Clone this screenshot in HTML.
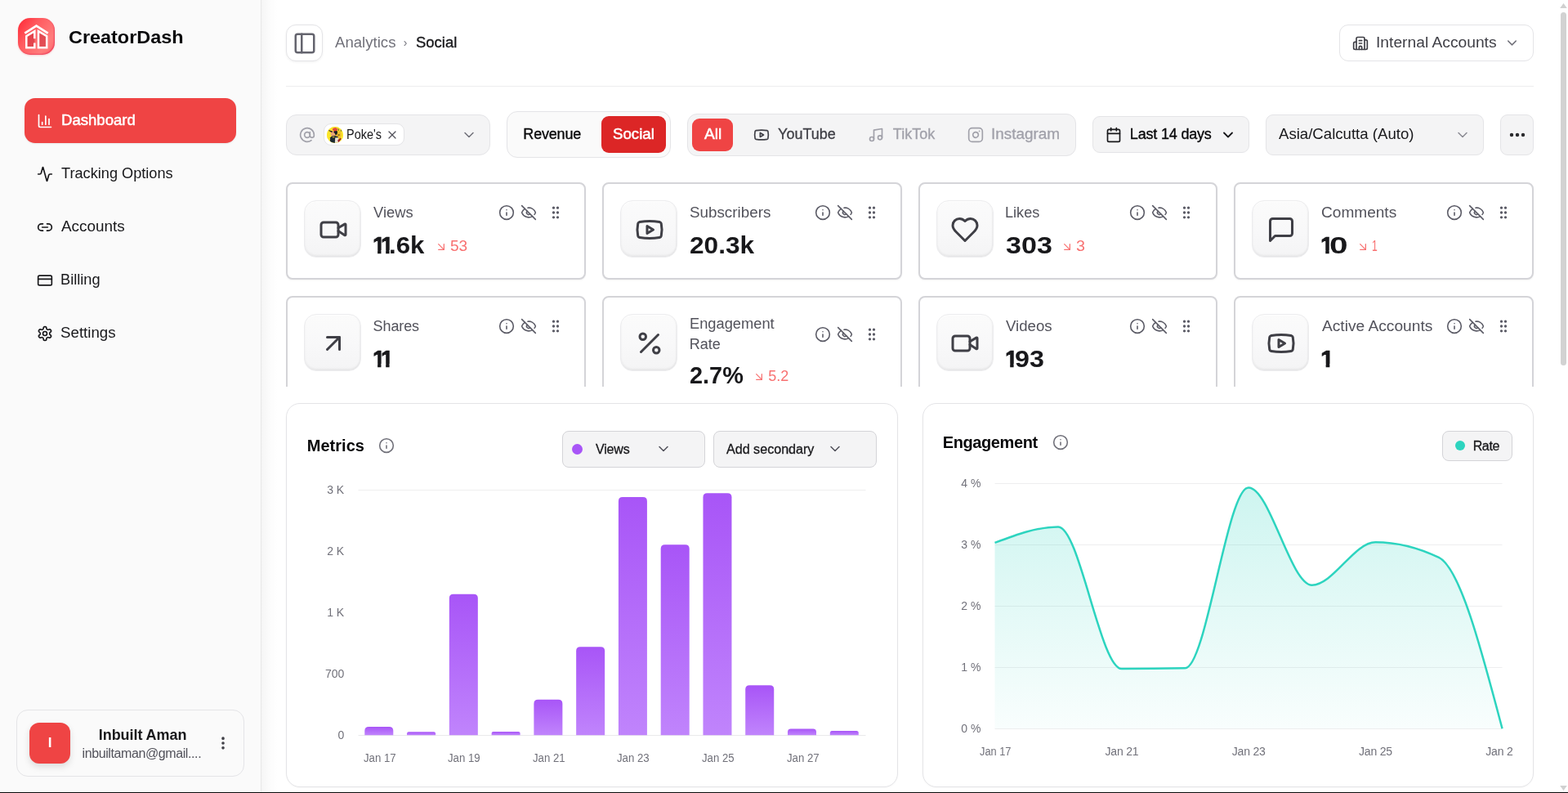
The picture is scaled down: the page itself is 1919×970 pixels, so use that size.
<!DOCTYPE html>
<html lang="en">
<head>
<meta charset="utf-8">
<title>CreatorDash</title>
<style>
*{box-sizing:border-box;margin:0;padding:0}
html,body{width:1919px;height:970px;overflow:hidden;background:#fff}
body{font-family:"Liberation Sans",sans-serif;color:#18181b;position:relative;-webkit-font-smoothing:antialiased}
.abs{position:absolute}
.t{position:absolute;white-space:nowrap;line-height:1}
svg.ic{position:absolute;fill:none;stroke:currentColor;stroke-width:2;stroke-linecap:round;stroke-linejoin:round}
#side{position:absolute;left:0;top:0;width:320px;height:970px;background:#fafafa;border-right:1px solid #e8e8e8}
#main{position:absolute;left:320px;top:0;width:1599px;height:970px;background:#fff}
.nav{color:#18181b;font-size:18px}
.box{position:absolute;border:1px solid #e4e4e7;background:#f4f4f5;border-radius:10px}
.card{position:absolute;border:2px solid #d4d4d8;border-radius:10px;background:#fff;height:118px;width:367px}
.ibox{position:absolute;left:20px;top:19px;width:70px;height:70px;border-radius:16px;border:1px solid #ececee;background:linear-gradient(180deg,#fdfdfd,#f4f4f5);box-shadow:0 2px 4px rgba(0,0,0,.06), inset 0 -2px 3px rgba(0,0,0,.03);color:#3f3f46}
.lbl{font-size:18px;color:#52525b}
.val{font-size:30px;font-weight:700;color:#18181b}
.trend{font-size:18px;color:#f87171}
.mini{color:#52525b}
.chart{position:absolute;border:1px solid #e4e4e7;border-radius:18px;background:#fff;box-shadow:0 1px 2px rgba(0,0,0,.04)}
</style>
</head>
<body>
<div id="side"></div>
<div id="main"></div>
<div class="abs" style="left:320px;top:0px;width:20px;height:969px;background:linear-gradient(90deg,rgba(0,0,0,.04) 0%,rgba(0,0,0,.028) 20%,rgba(0,0,0,.012) 55%,rgba(0,0,0,0) 100%)"></div>
<div class="abs" style="left:22.25px;top:22.25px;width:45px;height:45px;border-radius:15px;background:linear-gradient(125deg,#ff2633 0%,#ff5a5f 35%,#ff7d7d 75%,#ff6a6e 100%);box-shadow:inset -1px -1px 1.5px rgba(225,29,72,.55),0 1px 2px rgba(239,68,68,.25)"></div>
<svg class="abs" viewBox="0 0 45 45" style="left:22.25px;top:22.25px;width:45px;height:45px" fill="none" stroke="#fff" stroke-width="2.5" stroke-linejoin="miter" stroke-linecap="butt"><path d="M10.3 22.2 20.3 16.2V36.2H10.3z M25 16.2 35.2 22.2V36.2H25z" fill="rgba(200,35,50,.5)" stroke="none"/><path d="M8.3 18.6 22.5 9.6 36.7 18.6" stroke-width="2.7"/><path d="M20.3 25.2V16.2L10.3 22.2V36.2H20.3V30.4"/><path d="M25 16.2 35.2 22.2V36.2H25z"/></svg>
<div class="t" style="left:84.40px;top:35px;font-size:22px;color:#09090b;font-weight:700;transform:scaleX(1.0644);transform-origin:0 0;">CreatorDash</div>
<div class="abs" style="left:30px;top:120px;width:259px;height:55px;background:#ef4444;border-radius:13px;box-shadow:0 1px 2px rgba(0,0,0,.08)"></div>
<svg class="ic" viewBox="0 0 24 24" style="left:45.00px;top:138.00px;width:20px;height:20px;color:#fff;stroke-width:2;"><path d="M3 3v16a2 2 0 0 0 2 2h16"/><path d="M18 17V9"/><path d="M13 17V5"/><path d="M8 17v-3"/></svg>
<div class="t" style="left:74.55px;top:138px;font-size:18px;color:#fff;transform:scaleX(1.0318);transform-origin:0 0;-webkit-text-stroke:.45px #fff;">Dashboard</div>
<svg class="ic" viewBox="0 0 24 24" style="left:45.00px;top:203.00px;width:20px;height:20px;color:#18181b;stroke-width:2;"><path d="M22 12h-2.48a2 2 0 0 0-1.93 1.46l-2.35 8.36a.25.25 0 0 1-.48 0L9.24 2.18a.25.25 0 0 0-.48 0l-2.35 8.36A2 2 0 0 1 4.49 12H2"/></svg>
<div class="t" style="left:75.16px;top:203px;font-size:18px;color:#18181b;transform:scaleX(1.0094);transform-origin:0 0;">Tracking Options</div>
<svg class="ic" viewBox="0 0 24 24" style="left:45.00px;top:268.00px;width:20px;height:20px;color:#18181b;stroke-width:2;"><path d="M9 17H7A5 5 0 0 1 7 7h2"/><path d="M15 7h2a5 5 0 1 1 0 10h-2"/><path d="M8 12h8"/></svg>
<div class="t" style="left:75.35px;top:268px;font-size:18px;color:#18181b;transform:scaleX(1.0494);transform-origin:0 0;">Accounts</div>
<svg class="ic" viewBox="0 0 24 24" style="left:45.00px;top:333.00px;width:20px;height:20px;color:#18181b;stroke-width:2;"><rect width="20" height="14" x="2" y="5" rx="2"/><path d="M2 10h20"/></svg>
<div class="t" style="left:74.06px;top:333px;font-size:18px;color:#18181b;transform:scaleX(1.0113);transform-origin:0 0;">Billing</div>
<svg class="ic" viewBox="0 0 24 24" style="left:45.00px;top:398.00px;width:20px;height:20px;color:#18181b;stroke-width:2;"><path d="M12.22 2h-.44a2 2 0 0 0-2 2v.18a2 2 0 0 1-1 1.73l-.43.25a2 2 0 0 1-2 0l-.15-.08a2 2 0 0 0-2.73.73l-.22.38a2 2 0 0 0 .73 2.73l.15.1a2 2 0 0 1 1 1.72v.51a2 2 0 0 1-1 1.74l-.15.09a2 2 0 0 0-.73 2.73l.22.38a2 2 0 0 0 2.73.73l.15-.08a2 2 0 0 1 2 0l.43.25a2 2 0 0 1 1 1.73V20a2 2 0 0 0 2 2h.44a2 2 0 0 0 2-2v-.18a2 2 0 0 1 1-1.73l.43-.25a2 2 0 0 1 2 0l.15.08a2 2 0 0 0 2.73-.73l.22-.39a2 2 0 0 0-.73-2.73l-.15-.08a2 2 0 0 1-1-1.74v-.5a2 2 0 0 1 1-1.74l.15-.09a2 2 0 0 0 .73-2.73l-.22-.38a2 2 0 0 0-2.73-.73l-.15.08a2 2 0 0 1-2 0l-.43-.25a2 2 0 0 1-1-1.73V4a2 2 0 0 0-2-2z"/><circle cx="12" cy="12" r="3"/></svg>
<div class="t" style="left:74.46px;top:398px;font-size:18px;color:#18181b;transform:scaleX(1.0394);transform-origin:0 0;">Settings</div>
<div class="abs" style="left:20px;top:868px;width:279px;height:82px;border:1px solid #e4e4e7;border-radius:14px;background:#fafafa"></div>
<div class="abs" style="left:36px;top:884px;width:50px;height:50px;background:#ef4444;border-radius:12px;box-shadow:0 4px 8px rgba(0,0,0,.12)"></div>
<div class="t" style="left:58.65px;top:900px;font-size:17px;color:#fff;font-weight:700;">I</div>
<div class="t" style="left:120.79px;top:890px;font-size:18px;color:#18181b;font-weight:700;letter-spacing:-0.063px;">Inbuilt Aman</div>
<div class="t" style="left:100.50px;top:914px;font-size:16px;color:#52525b;letter-spacing:-0.399px;">inbuiltaman@gmail....</div>
<svg class="ic" viewBox="0 0 24 24" style="left:263.00px;top:899.00px;width:20px;height:20px;color:#3f3f46;stroke-width:2.4;"><circle cx="12" cy="12" r="1"/><circle cx="12" cy="5" r="1"/><circle cx="12" cy="19" r="1"/></svg>
<div class="abs" style="left:350px;top:30px;width:45px;height:45px;border:1px solid #e4e4e7;border-radius:12px;background:#fff;box-shadow:0 1px 3px rgba(0,0,0,.06)"></div>
<svg class="ic" viewBox="0 0 24 24" style="left:358.00px;top:37.70px;width:30px;height:30px;color:#64646e;stroke-width:2;"><rect width="18" height="18" x="3" y="3" rx="2"/><path d="M9 3v18"/></svg>
<div class="t" style="left:410.46px;top:43px;font-size:18px;color:#71717a;transform:scaleX(1.0340);transform-origin:0 0;">Analytics</div>
<div class="t" style="left:493.70px;top:45px;font-size:14px;color:#71717a;">›</div>
<div class="t" style="left:508.93px;top:43px;font-size:18px;color:#18181b;transform:scaleX(1.0266);transform-origin:0 0;-webkit-text-stroke:.35px #18181b;">Social</div>
<div class="abs" style="left:1639px;top:30px;width:238px;height:45px;border:1px solid #e4e4e7;border-radius:11px;background:#fff"></div>
<svg class="ic" viewBox="0 0 24 24" style="left:1654.90px;top:42.50px;width:20px;height:20px;color:#3f3f46;stroke-width:2;"><path d="M10 12h4"/><path d="M10 8h4"/><path d="M14 21v-3a2 2 0 0 0-4 0v3"/><path d="M6 10H4a2 2 0 0 0-2 2v7a2 2 0 0 0 2 2h16a2 2 0 0 0 2-2V9a2 2 0 0 0-2-2h-2"/><path d="M6 21V5a2 2 0 0 1 2-2h8a2 2 0 0 1 2 2v16"/></svg>
<div class="t" style="left:1683.76px;top:43px;font-size:18px;color:#3f3f46;transform:scaleX(1.0685);transform-origin:0 0;">Internal Accounts</div>
<svg class="ic" viewBox="0 0 24 24" style="left:1841.10px;top:43.30px;width:19px;height:19px;color:#71717a;stroke-width:1.8;"><path d="m6 9 6 6 6-6"/></svg>
<div class="abs" style="left:350px;top:105px;width:1527px;height:1px;background:#ededee"></div>
<div class="abs" style="left:350px;top:140px;width:250px;height:50px;border:1px solid #e4e4e7;background:#f4f4f5;border-radius:13px"></div>
<svg class="ic" viewBox="0 0 24 24" style="left:366.00px;top:154.50px;width:20px;height:20px;color:#a1a1aa;stroke-width:2;"><circle cx="12" cy="12" r="4"/><path d="M16 8v5a3 3 0 0 0 6 0v-1a10 10 0 1 0-4 8"/></svg>
<div class="abs" style="left:396px;top:151px;width:99px;height:27px;border:1px solid #e4e4e7;background:#fff;border-radius:9px"></div>
<div class="abs" style="left:400px;top:155px;width:20px;height:20px;border-radius:50%;overflow:hidden;background:#fae428"><svg viewBox="0 0 20 20" width="20" height="20"><defs><filter id="bl" x="-20%" y="-20%" width="140%" height="140%"><feGaussianBlur stdDeviation="0.45"/></filter></defs><rect width="20" height="20" fill="#fbe52a"/><g filter="url(#bl)"><path d="M11 7.5c1-2 3-2.8 4.8-2.2l1.7 1.5.6 4-1.8 3.4-4.2.3z" fill="#eec22a"/><path d="M13.6 1.6l1.5 2.6-1.2.8z M17.2 2.8l.8 2.6-1.3.2z" fill="#3b3a2a"/><path d="M13.5 9.2l2.5.2-.3 1.3-2 .2z" fill="#7a5a1c"/><path d="M12.3 10.6l2 .6-1 1.3z" fill="#e8863a"/><path d="M5 6.2c1.5-.8 4-.9 5.6 0l.3 4.6-2.2 1.6-3-.6-1-2.6z" fill="#eaa775"/><path d="M9.6 4.2c1.8-.6 3.2.4 3.4 2.2l-.4 2.6-1.8 1.4-1-2.2-1.6-1.6z" fill="#121a22"/><path d="M6.8 3.6C7.2 1.9 9 1 10.8 1.3c1.500.3 2.200 1.300 2.200 2.600L11.800 5.300 8.500 5.400z" fill="#e2463f"/><path d="M1.700 4.100l5.300 1.300-.6 1.700c-1.800-.4-3.500-1.500-4.700-3z" fill="#2b1a2c"/><path d="M4.200 13.200c1-1.400 3.200-2.200 5.800-2.200l3.600 1.200 1 8.300H3.600z" fill="#1d2a32"/><path d="M10.200 13.400l3.600-.2 1.600 7.200h-5.600z" fill="#e9e1d2"/><path d="M13.200 16.500l3.600-3 .8 1.600-3.400 4.600z" fill="#9c1f2c"/><path d="M6.600 12.400l2.600-.4.300 1-2.400.5z" fill="#e6c22a"/></g></svg></div>
<div class="t" style="left:423.92px;top:157px;font-size:16px;color:#18181b;transform:scaleX(0.9026);transform-origin:0 0;">Poke's</div>
<svg class="ic" viewBox="0 0 24 24" style="left:471.60px;top:156.50px;width:16px;height:16px;color:#52525b;stroke-width:1.8;"><path d="M18 6 6 18"/><path d="m6 6 12 12"/></svg>
<svg class="ic" viewBox="0 0 24 24" style="left:563.90px;top:155.00px;width:20px;height:20px;color:#71717a;stroke-width:1.8;"><path d="m6 9 6 6 6-6"/></svg>
<div class="abs" style="left:620px;top:136px;width:201px;height:57px;border:1px solid #e4e4e7;background:#fafafa;border-radius:13px"></div>
<div class="t" style="left:640.33px;top:155px;font-size:18px;color:#09090b;letter-spacing:-0.194px;-webkit-text-stroke:.35px #09090b;">Revenue</div>
<div class="abs" style="left:736px;top:142px;width:79px;height:45px;background:#dc2626;border-radius:9px"></div>
<div class="t" style="left:750.27px;top:155px;font-size:18px;color:#fff;transform:scaleX(1.0364);transform-origin:0 0;-webkit-text-stroke:.5px #fff;">Social</div>
<div class="abs" style="left:841px;top:139px;width:476px;height:52px;border:1px solid #e4e4e7;background:#f4f4f5;border-radius:12px"></div>
<div class="abs" style="left:847px;top:145px;width:50px;height:40px;background:#ef4444;border-radius:9px"></div>
<div class="t" style="left:861.80px;top:155px;font-size:18px;color:#fff;transform:scaleX(1.0632);transform-origin:0 0;-webkit-text-stroke:.5px #fff;">All</div>
<svg class="ic" viewBox="0 0 24 24" style="left:922.00px;top:154.80px;width:20px;height:20px;color:#3f3f46;stroke-width:2;"><path d="M2.5 17a24.12 24.12 0 0 1 0-10 2 2 0 0 1 1.4-1.4 49.56 49.56 0 0 1 16.2 0A2 2 0 0 1 21.5 7a24.12 24.12 0 0 1 0 10 2 2 0 0 1-1.4 1.4 49.55 49.55 0 0 1-16.2 0A2 2 0 0 1 2.5 17"/><path d="m10 15 5-3-5-3z"/></svg>
<div class="t" style="left:952.10px;top:155px;font-size:18px;color:#3f3f46;-webkit-text-stroke:.3px #3f3f46;">YouTube</div>
<svg class="ic" viewBox="0 0 24 24" style="left:1062.00px;top:154.80px;width:20px;height:20px;color:#a1a1aa;stroke-width:2;"><path d="M9 18V5l12-2v13"/><circle cx="6" cy="18" r="3"/><circle cx="18" cy="16" r="3"/></svg>
<div class="t" style="left:1092.86px;top:155px;font-size:18px;color:#a1a1aa;letter-spacing:-0.012px;-webkit-text-stroke:.3px #a1a1aa;">TikTok</div>
<svg class="ic" viewBox="0 0 24 24" style="left:1184.00px;top:154.80px;width:20px;height:20px;color:#a1a1aa;stroke-width:2;"><rect width="20" height="20" x="2" y="2" rx="5" ry="5"/><path d="M16 11.37A4 4 0 1 1 12.63 8 4 4 0 0 1 16 11.37z"/><path d="M17.5 6.5h.01"/></svg>
<div class="t" style="left:1213.28px;top:155px;font-size:18px;color:#a1a1aa;transform:scaleX(1.0509);transform-origin:0 0;-webkit-text-stroke:.3px #a1a1aa;">Instagram</div>
<div class="abs" style="left:1337px;top:142px;width:192px;height:45px;border:1px solid #e4e4e7;background:#f4f4f5;border-radius:9px"></div>
<svg class="ic" viewBox="0 0 24 24" style="left:1352.80px;top:154.50px;width:20px;height:20px;color:#18181b;stroke-width:2;"><path d="M8 2v4"/><path d="M16 2v4"/><rect width="18" height="18" x="3" y="4" rx="2"/><path d="M3 10h18"/></svg>
<div class="t" style="left:1382.83px;top:155px;font-size:18px;color:#09090b;letter-spacing:-0.186px;-webkit-text-stroke:.35px #09090b;">Last 14 days</div>
<svg class="ic" viewBox="0 0 24 24" style="left:1493.00px;top:155.00px;width:20px;height:20px;color:#18181b;stroke-width:2.2;"><path d="m6 9 6 6 6-6"/></svg>
<div class="abs" style="left:1549px;top:140px;width:267px;height:50px;border:1px solid #e4e4e7;background:#f4f4f5;border-radius:9px"></div>
<div class="t" style="left:1565.36px;top:155px;font-size:18px;color:#18181b;transform:scaleX(1.0339);transform-origin:0 0;">Asia/Calcutta (Auto)</div>
<svg class="ic" viewBox="0 0 24 24" style="left:1779.80px;top:155.00px;width:20px;height:20px;color:#8b8b93;stroke-width:1.8;"><path d="m6 9 6 6 6-6"/></svg>
<div class="abs" style="left:1836px;top:140px;width:41px;height:50px;border:1px solid #e4e4e7;background:#f4f4f5;border-radius:9px"></div>
<svg class="ic" viewBox="0 0 24 24" style="left:1844.50px;top:152.50px;width:24px;height:24px;color:#27272a;stroke-width:2.4;"><circle cx="12" cy="12" r="1"/><circle cx="19" cy="12" r="1"/><circle cx="5" cy="12" r="1"/></svg>
<div class="abs" style="left:350px;top:223px;width:366.75px;height:119px;border:2px solid #d4d4d8;border-radius:8px;background:#fff;box-shadow:0 1px 2px rgba(0,0,0,.05)"></div>
<div class="abs" style="left:372px;top:245px;width:70px;height:70px;border-radius:15px;border:1px solid #ececee;background:linear-gradient(180deg,#fbfbfb 0%,#f8f8f9 55%,#f4f4f5 100%);box-shadow:inset 0 -2px 2.5px rgba(0,0,0,.055),inset -1px 0 1.5px rgba(0,0,0,.03),inset 0 1px 1px rgba(255,255,255,.9)"></div>
<svg class="ic" viewBox="0 0 24 24" style="left:389.90px;top:262.90px;width:36px;height:36px;color:#3f3f46;stroke-width:2;"><path d="m16 13 5.223 3.482a.5.5 0 0 0 .777-.416V7.87a.5.5 0 0 0-.752-.432L16 10.5"/><rect x="2" y="6" width="14" height="12" rx="2"/></svg>
<div class="t" style="left:457.41px;top:251px;font-size:18px;color:#52525b;transform:scaleX(1.0189);transform-origin:0 0;">Views</div>
<div class="t" aria-label="11.6k" style="left:455.67px;top:285px;font-size:30px;color:#18181b;font-weight:700;"><span style="display:inline-block;transform:scaleX(0.9203);transform-origin:0 0;margin-left:0.00px;margin-right:-1.35px;clip-path:polygon(0 0,100% 0,100% 21px,11.36px 21px,11.36px 100%,6.64px 100%,6.64px 21px,0 21px);-webkit-text-stroke:.6px #18181b;">1</span><span style="display:inline-block;transform:scaleX(0.9315);transform-origin:0 0;margin-left:-5.47px;margin-right:-1.16px;clip-path:polygon(0 0,100% 0,100% 21px,11.36px 21px,11.36px 100%,6.64px 100%,6.64px 21px,0 21px);-webkit-text-stroke:.6px #18181b;">1</span><span style="display:inline-block;transform:scaleX(1.0414);transform-origin:0 0;margin-left:-4.69px;margin-right:1.74px;">.6k</span></div>
<svg class="ic" viewBox="0 0 24 24" style="left:531.70px;top:293.70px;width:16px;height:16px;color:#f87171;stroke-width:1.9;"><path d="m7 7 10 10"/><path d="M17 7v10H7"/></svg>
<div class="t" style="left:550.80px;top:292px;font-size:18px;color:#f87171;transform:scaleX(1.0595);transform-origin:0 0;">53</div>
<svg class="ic" viewBox="0 0 24 24" style="left:610.00px;top:249.80px;width:20px;height:20px;color:#5b5b66;stroke-width:1.9;"><circle cx="12" cy="12" r="10"/><path d="M12 16v-4"/><path d="M12 8h.01"/></svg>
<svg class="ic" viewBox="0 0 24 24" style="left:637.00px;top:249.80px;width:20px;height:20px;color:#5b5b66;stroke-width:1.9;"><path d="M10.733 5.076a10.744 10.744 0 0 1 11.205 6.575 1 1 0 0 1 0 .696 10.747 10.747 0 0 1-1.444 2.49"/><path d="M14.084 14.158a3 3 0 0 1-4.242-4.242"/><path d="M17.479 17.499a10.75 10.75 0 0 1-15.417-5.151 1 1 0 0 1 0-.696 10.75 10.75 0 0 1 4.446-5.143"/><path d="m2 2 20 20"/></svg>
<svg class="ic" viewBox="0 0 24 24" style="left:670.00px;top:249.80px;width:20px;height:20px;color:#5b5b66;stroke-width:2;"><circle cx="9" cy="12" r="1"/><circle cx="9" cy="5" r="1"/><circle cx="9" cy="19" r="1"/><circle cx="15" cy="12" r="1"/><circle cx="15" cy="5" r="1"/><circle cx="15" cy="19" r="1"/></svg>
<div class="abs" style="left:736.75px;top:223px;width:366.75px;height:119px;border:2px solid #d4d4d8;border-radius:8px;background:#fff;box-shadow:0 1px 2px rgba(0,0,0,.05)"></div>
<div class="abs" style="left:758.75px;top:245px;width:70px;height:70px;border-radius:15px;border:1px solid #ececee;background:linear-gradient(180deg,#fbfbfb 0%,#f8f8f9 55%,#f4f4f5 100%);box-shadow:inset 0 -2px 2.5px rgba(0,0,0,.055),inset -1px 0 1.5px rgba(0,0,0,.03),inset 0 1px 1px rgba(255,255,255,.9)"></div>
<svg class="ic" viewBox="0 0 24 24" style="left:776.65px;top:262.90px;width:36px;height:36px;color:#3f3f46;stroke-width:2;"><path d="M2.5 17a24.12 24.12 0 0 1 0-10 2 2 0 0 1 1.4-1.4 49.56 49.56 0 0 1 16.2 0A2 2 0 0 1 21.5 7a24.12 24.12 0 0 1 0 10 2 2 0 0 1-1.4 1.4 49.55 49.55 0 0 1-16.2 0A2 2 0 0 1 2.5 17"/><path d="m10 15 5-3-5-3z"/></svg>
<div class="t" style="left:844.11px;top:251px;font-size:18px;color:#52525b;transform:scaleX(1.0449);transform-origin:0 0;">Subscribers</div>
<div class="t" style="left:844.15px;top:285px;font-size:30px;color:#18181b;font-weight:700;"><span style="display:inline-block;transform:scaleX(1.0541);transform-origin:0 0;margin-left:0.00px;margin-right:4.06px;">20.3k</span></div>
<svg class="ic" viewBox="0 0 24 24" style="left:996.75px;top:249.80px;width:20px;height:20px;color:#5b5b66;stroke-width:1.9;"><circle cx="12" cy="12" r="10"/><path d="M12 16v-4"/><path d="M12 8h.01"/></svg>
<svg class="ic" viewBox="0 0 24 24" style="left:1023.75px;top:249.80px;width:20px;height:20px;color:#5b5b66;stroke-width:1.9;"><path d="M10.733 5.076a10.744 10.744 0 0 1 11.205 6.575 1 1 0 0 1 0 .696 10.747 10.747 0 0 1-1.444 2.49"/><path d="M14.084 14.158a3 3 0 0 1-4.242-4.242"/><path d="M17.479 17.499a10.75 10.75 0 0 1-15.417-5.151 1 1 0 0 1 0-.696 10.75 10.75 0 0 1 4.446-5.143"/><path d="m2 2 20 20"/></svg>
<svg class="ic" viewBox="0 0 24 24" style="left:1056.75px;top:249.80px;width:20px;height:20px;color:#5b5b66;stroke-width:2;"><circle cx="9" cy="12" r="1"/><circle cx="9" cy="5" r="1"/><circle cx="9" cy="19" r="1"/><circle cx="15" cy="12" r="1"/><circle cx="15" cy="5" r="1"/><circle cx="15" cy="19" r="1"/></svg>
<div class="abs" style="left:1123.5px;top:223px;width:366.75px;height:119px;border:2px solid #d4d4d8;border-radius:8px;background:#fff;box-shadow:0 1px 2px rgba(0,0,0,.05)"></div>
<div class="abs" style="left:1145.5px;top:245px;width:70px;height:70px;border-radius:15px;border:1px solid #ececee;background:linear-gradient(180deg,#fbfbfb 0%,#f8f8f9 55%,#f4f4f5 100%);box-shadow:inset 0 -2px 2.5px rgba(0,0,0,.055),inset -1px 0 1.5px rgba(0,0,0,.03),inset 0 1px 1px rgba(255,255,255,.9)"></div>
<svg class="ic" viewBox="0 0 24 24" style="left:1163.40px;top:262.90px;width:36px;height:36px;color:#3f3f46;stroke-width:2;"><path d="M19 14c1.49-1.46 3-3.21 3-5.5A5.5 5.5 0 0 0 16.5 3c-1.76 0-3 .5-4.5 2-1.5-1.5-2.74-2-4.5-2A5.5 5.5 0 0 0 2 8.5c0 2.3 1.5 4.05 3 5.5l7 7Z"/></svg>
<div class="t" style="left:1230.28px;top:251px;font-size:18px;color:#52525b;transform:scaleX(1.0051);transform-origin:0 0;">Likes</div>
<div class="t" style="left:1230.63px;top:285px;font-size:30px;color:#18181b;font-weight:700;"><span style="display:inline-block;transform:scaleX(1.1352);transform-origin:0 0;margin-left:0.00px;margin-right:6.76px;">303</span></div>
<svg class="ic" viewBox="0 0 24 24" style="left:1297.90px;top:293.70px;width:16px;height:16px;color:#f87171;stroke-width:1.9;"><path d="m7 7 10 10"/><path d="M17 7v10H7"/></svg>
<div class="t" style="left:1317.00px;top:292px;font-size:18px;color:#f87171;transform:scaleX(1.0955);transform-origin:0 0;">3</div>
<svg class="ic" viewBox="0 0 24 24" style="left:1382.30px;top:249.80px;width:20px;height:20px;color:#5b5b66;stroke-width:1.9;"><circle cx="12" cy="12" r="10"/><path d="M12 16v-4"/><path d="M12 8h.01"/></svg>
<svg class="ic" viewBox="0 0 24 24" style="left:1409.30px;top:249.80px;width:20px;height:20px;color:#5b5b66;stroke-width:1.9;"><path d="M10.733 5.076a10.744 10.744 0 0 1 11.205 6.575 1 1 0 0 1 0 .696 10.747 10.747 0 0 1-1.444 2.49"/><path d="M14.084 14.158a3 3 0 0 1-4.242-4.242"/><path d="M17.479 17.499a10.75 10.75 0 0 1-15.417-5.151 1 1 0 0 1 0-.696 10.75 10.75 0 0 1 4.446-5.143"/><path d="m2 2 20 20"/></svg>
<svg class="ic" viewBox="0 0 24 24" style="left:1442.30px;top:249.80px;width:20px;height:20px;color:#5b5b66;stroke-width:2;"><circle cx="9" cy="12" r="1"/><circle cx="9" cy="5" r="1"/><circle cx="9" cy="19" r="1"/><circle cx="15" cy="12" r="1"/><circle cx="15" cy="5" r="1"/><circle cx="15" cy="19" r="1"/></svg>
<div class="abs" style="left:1510.25px;top:223px;width:366.75px;height:119px;border:2px solid #d4d4d8;border-radius:8px;background:#fff;box-shadow:0 1px 2px rgba(0,0,0,.05)"></div>
<div class="abs" style="left:1532.25px;top:245px;width:70px;height:70px;border-radius:15px;border:1px solid #ececee;background:linear-gradient(180deg,#fbfbfb 0%,#f8f8f9 55%,#f4f4f5 100%);box-shadow:inset 0 -2px 2.5px rgba(0,0,0,.055),inset -1px 0 1.5px rgba(0,0,0,.03),inset 0 1px 1px rgba(255,255,255,.9)"></div>
<svg class="ic" viewBox="0 0 24 24" style="left:1550.15px;top:262.90px;width:36px;height:36px;color:#3f3f46;stroke-width:2;"><path d="M21 15a2 2 0 0 1-2 2H7l-4 4V5a2 2 0 0 1 2-2h14a2 2 0 0 1 2 2z"/></svg>
<div class="t" style="left:1616.85px;top:251px;font-size:18px;color:#52525b;transform:scaleX(1.0596);transform-origin:0 0;">Comments</div>
<div class="t" aria-label="10" style="left:1615.87px;top:285px;font-size:30px;color:#18181b;font-weight:700;"><span style="display:inline-block;transform:scaleX(0.9428);transform-origin:0 0;margin-left:0.00px;margin-right:-0.97px;clip-path:polygon(0 0,100% 0,100% 21px,11.36px 21px,11.36px 100%,6.64px 100%,6.64px 21px,0 21px);-webkit-text-stroke:.6px #18181b;">1</span><span style="display:inline-block;transform:scaleX(1.3521);transform-origin:0 0;margin-left:-4.43px;margin-right:5.99px;">0</span></div>
<svg class="ic" viewBox="0 0 24 24" style="left:1660.15px;top:293.70px;width:16px;height:16px;color:#f87171;stroke-width:1.9;"><path d="m7 7 10 10"/><path d="M17 7v10H7"/></svg>
<div class="t" style="left:1679.25px;top:292px;font-size:18px;color:#f87171;transform:scaleX(0.6753);transform-origin:0 0;">1</div>
<svg class="ic" viewBox="0 0 24 24" style="left:1770.25px;top:249.80px;width:20px;height:20px;color:#5b5b66;stroke-width:1.9;"><circle cx="12" cy="12" r="10"/><path d="M12 16v-4"/><path d="M12 8h.01"/></svg>
<svg class="ic" viewBox="0 0 24 24" style="left:1797.25px;top:249.80px;width:20px;height:20px;color:#5b5b66;stroke-width:1.9;"><path d="M10.733 5.076a10.744 10.744 0 0 1 11.205 6.575 1 1 0 0 1 0 .696 10.747 10.747 0 0 1-1.444 2.49"/><path d="M14.084 14.158a3 3 0 0 1-4.242-4.242"/><path d="M17.479 17.499a10.75 10.75 0 0 1-15.417-5.151 1 1 0 0 1 0-.696 10.75 10.75 0 0 1 4.446-5.143"/><path d="m2 2 20 20"/></svg>
<svg class="ic" viewBox="0 0 24 24" style="left:1830.25px;top:249.80px;width:20px;height:20px;color:#5b5b66;stroke-width:2;"><circle cx="9" cy="12" r="1"/><circle cx="9" cy="5" r="1"/><circle cx="9" cy="19" r="1"/><circle cx="15" cy="12" r="1"/><circle cx="15" cy="5" r="1"/><circle cx="15" cy="19" r="1"/></svg>
<div class="abs" style="left:350px;top:362px;width:366.75px;height:111px;overflow:hidden"><div style="width:100%;height:139px;border:2px solid #d4d4d8;border-radius:8px;background:#fff"></div></div>
<div class="abs" style="left:372px;top:384px;width:70px;height:70px;border-radius:15px;border:1px solid #ececee;background:linear-gradient(180deg,#fbfbfb 0%,#f8f8f9 55%,#f4f4f5 100%);box-shadow:inset 0 -2px 2.5px rgba(0,0,0,.055),inset -1px 0 1.5px rgba(0,0,0,.03),inset 0 1px 1px rgba(255,255,255,.9)"></div>
<svg class="ic" viewBox="0 0 24 24" style="left:389.90px;top:401.90px;width:36px;height:36px;color:#3f3f46;stroke-width:2;"><path d="M7 7h10v10"/><path d="M7 17 17 7"/></svg>
<div class="t" style="left:456.59px;top:390px;font-size:18px;color:#52525b;letter-spacing:-0.109px;">Shares</div>
<div class="t" aria-label="11" style="left:455.67px;top:424px;font-size:30px;color:#18181b;font-weight:700;"><span style="display:inline-block;transform:scaleX(0.9203);transform-origin:0 0;margin-left:0.00px;margin-right:-1.35px;clip-path:polygon(0 0,100% 0,100% 21px,11.36px 21px,11.36px 100%,6.64px 100%,6.64px 21px,0 21px);-webkit-text-stroke:.6px #18181b;">1</span><span style="display:inline-block;transform:scaleX(0.9315);transform-origin:0 0;margin-left:-5.07px;margin-right:-1.16px;clip-path:polygon(0 0,100% 0,100% 21px,11.36px 21px,11.36px 100%,6.64px 100%,6.64px 21px,0 21px);-webkit-text-stroke:.6px #18181b;">1</span></div>
<svg class="ic" viewBox="0 0 24 24" style="left:610.00px;top:388.80px;width:20px;height:20px;color:#5b5b66;stroke-width:1.9;"><circle cx="12" cy="12" r="10"/><path d="M12 16v-4"/><path d="M12 8h.01"/></svg>
<svg class="ic" viewBox="0 0 24 24" style="left:637.00px;top:388.80px;width:20px;height:20px;color:#5b5b66;stroke-width:1.9;"><path d="M10.733 5.076a10.744 10.744 0 0 1 11.205 6.575 1 1 0 0 1 0 .696 10.747 10.747 0 0 1-1.444 2.49"/><path d="M14.084 14.158a3 3 0 0 1-4.242-4.242"/><path d="M17.479 17.499a10.75 10.75 0 0 1-15.417-5.151 1 1 0 0 1 0-.696 10.75 10.75 0 0 1 4.446-5.143"/><path d="m2 2 20 20"/></svg>
<svg class="ic" viewBox="0 0 24 24" style="left:670.00px;top:388.80px;width:20px;height:20px;color:#5b5b66;stroke-width:2;"><circle cx="9" cy="12" r="1"/><circle cx="9" cy="5" r="1"/><circle cx="9" cy="19" r="1"/><circle cx="15" cy="12" r="1"/><circle cx="15" cy="5" r="1"/><circle cx="15" cy="19" r="1"/></svg>
<div class="abs" style="left:736.75px;top:362px;width:366.75px;height:111px;overflow:hidden"><div style="width:100%;height:139px;border:2px solid #d4d4d8;border-radius:8px;background:#fff"></div></div>
<div class="abs" style="left:758.75px;top:384px;width:70px;height:70px;border-radius:15px;border:1px solid #ececee;background:linear-gradient(180deg,#fbfbfb 0%,#f8f8f9 55%,#f4f4f5 100%);box-shadow:inset 0 -2px 2.5px rgba(0,0,0,.055),inset -1px 0 1.5px rgba(0,0,0,.03),inset 0 1px 1px rgba(255,255,255,.9)"></div>
<svg class="ic" viewBox="0 0 24 24" style="left:776.65px;top:401.90px;width:36px;height:36px;color:#3f3f46;stroke-width:2;"><path d="M19 5 5 19"/><circle cx="6.5" cy="6.5" r="2.5"/><circle cx="17.5" cy="17.5" r="2.5"/></svg>
<div class="t" style="left:843.71px;top:387px;font-size:18px;color:#52525b;transform:scaleX(1.0155);transform-origin:0 0;">Engagement</div>
<div class="t" style="left:843.73px;top:412px;font-size:18px;color:#52525b;">Rate</div>
<div class="t" style="left:844.15px;top:444px;font-size:30px;color:#18181b;font-weight:700;"><span style="display:inline-block;transform:scaleX(0.9627);transform-origin:0 0;margin-left:0.00px;margin-right:-2.53px;">2.7%</span></div>
<svg class="ic" viewBox="0 0 24 24" style="left:921.05px;top:452.70px;width:16px;height:16px;color:#f87171;stroke-width:1.9;"><path d="m7 7 10 10"/><path d="M17 7v10H7"/></svg>
<div class="t" style="left:940.27px;top:451px;font-size:18px;color:#f87171;letter-spacing:-0.015px;">5.2</div>
<svg class="ic" viewBox="0 0 24 24" style="left:996.75px;top:399.20px;width:20px;height:20px;color:#5b5b66;stroke-width:1.9;"><circle cx="12" cy="12" r="10"/><path d="M12 16v-4"/><path d="M12 8h.01"/></svg>
<svg class="ic" viewBox="0 0 24 24" style="left:1023.75px;top:399.20px;width:20px;height:20px;color:#5b5b66;stroke-width:1.9;"><path d="M10.733 5.076a10.744 10.744 0 0 1 11.205 6.575 1 1 0 0 1 0 .696 10.747 10.747 0 0 1-1.444 2.49"/><path d="M14.084 14.158a3 3 0 0 1-4.242-4.242"/><path d="M17.479 17.499a10.75 10.75 0 0 1-15.417-5.151 1 1 0 0 1 0-.696 10.75 10.75 0 0 1 4.446-5.143"/><path d="m2 2 20 20"/></svg>
<svg class="ic" viewBox="0 0 24 24" style="left:1056.75px;top:399.20px;width:20px;height:20px;color:#5b5b66;stroke-width:2;"><circle cx="9" cy="12" r="1"/><circle cx="9" cy="5" r="1"/><circle cx="9" cy="19" r="1"/><circle cx="15" cy="12" r="1"/><circle cx="15" cy="5" r="1"/><circle cx="15" cy="19" r="1"/></svg>
<div class="abs" style="left:1123.5px;top:362px;width:366.75px;height:111px;overflow:hidden"><div style="width:100%;height:139px;border:2px solid #d4d4d8;border-radius:8px;background:#fff"></div></div>
<div class="abs" style="left:1145.5px;top:384px;width:70px;height:70px;border-radius:15px;border:1px solid #ececee;background:linear-gradient(180deg,#fbfbfb 0%,#f8f8f9 55%,#f4f4f5 100%);box-shadow:inset 0 -2px 2.5px rgba(0,0,0,.055),inset -1px 0 1.5px rgba(0,0,0,.03),inset 0 1px 1px rgba(255,255,255,.9)"></div>
<svg class="ic" viewBox="0 0 24 24" style="left:1163.40px;top:401.90px;width:36px;height:36px;color:#3f3f46;stroke-width:2;"><path d="m16 13 5.223 3.482a.5.5 0 0 0 .777-.416V7.87a.5.5 0 0 0-.752-.432L16 10.5"/><rect x="2" y="6" width="14" height="12" rx="2"/></svg>
<div class="t" style="left:1231.31px;top:390px;font-size:18px;color:#52525b;transform:scaleX(1.0350);transform-origin:0 0;">Videos</div>
<div class="t" aria-label="193" style="left:1229.54px;top:424px;font-size:30px;color:#18181b;font-weight:700;"><span style="display:inline-block;transform:scaleX(0.9315);transform-origin:0 0;margin-left:0.00px;margin-right:-1.16px;clip-path:polygon(0 0,100% 0,100% 21px,11.36px 21px,11.36px 100%,6.64px 100%,6.64px 21px,0 21px);-webkit-text-stroke:.6px #18181b;">1</span><span style="display:inline-block;transform:scaleX(1.0742);transform-origin:0 0;margin-left:-3.13px;margin-right:2.45px;">93</span></div>
<svg class="ic" viewBox="0 0 24 24" style="left:1382.30px;top:388.80px;width:20px;height:20px;color:#5b5b66;stroke-width:1.9;"><circle cx="12" cy="12" r="10"/><path d="M12 16v-4"/><path d="M12 8h.01"/></svg>
<svg class="ic" viewBox="0 0 24 24" style="left:1409.30px;top:388.80px;width:20px;height:20px;color:#5b5b66;stroke-width:1.9;"><path d="M10.733 5.076a10.744 10.744 0 0 1 11.205 6.575 1 1 0 0 1 0 .696 10.747 10.747 0 0 1-1.444 2.49"/><path d="M14.084 14.158a3 3 0 0 1-4.242-4.242"/><path d="M17.479 17.499a10.75 10.75 0 0 1-15.417-5.151 1 1 0 0 1 0-.696 10.75 10.75 0 0 1 4.446-5.143"/><path d="m2 2 20 20"/></svg>
<svg class="ic" viewBox="0 0 24 24" style="left:1442.30px;top:388.80px;width:20px;height:20px;color:#5b5b66;stroke-width:2;"><circle cx="9" cy="12" r="1"/><circle cx="9" cy="5" r="1"/><circle cx="9" cy="19" r="1"/><circle cx="15" cy="12" r="1"/><circle cx="15" cy="5" r="1"/><circle cx="15" cy="19" r="1"/></svg>
<div class="abs" style="left:1510.25px;top:362px;width:366.75px;height:111px;overflow:hidden"><div style="width:100%;height:139px;border:2px solid #d4d4d8;border-radius:8px;background:#fff"></div></div>
<div class="abs" style="left:1532.25px;top:384px;width:70px;height:70px;border-radius:15px;border:1px solid #ececee;background:linear-gradient(180deg,#fbfbfb 0%,#f8f8f9 55%,#f4f4f5 100%);box-shadow:inset 0 -2px 2.5px rgba(0,0,0,.055),inset -1px 0 1.5px rgba(0,0,0,.03),inset 0 1px 1px rgba(255,255,255,.9)"></div>
<svg class="ic" viewBox="0 0 24 24" style="left:1550.15px;top:401.90px;width:36px;height:36px;color:#3f3f46;stroke-width:2;"><path d="M2.5 17a24.12 24.12 0 0 1 0-10 2 2 0 0 1 1.4-1.4 49.56 49.56 0 0 1 16.2 0A2 2 0 0 1 21.5 7a24.12 24.12 0 0 1 0 10 2 2 0 0 1-1.4 1.4 49.55 49.55 0 0 1-16.2 0A2 2 0 0 1 2.5 17"/><path d="m10 15 5-3-5-3z"/></svg>
<div class="t" style="left:1617.71px;top:390px;font-size:18px;color:#52525b;transform:scaleX(1.0651);transform-origin:0 0;">Active Accounts</div>
<div class="t" style="left:1615.75px;top:424px;font-size:30px;color:#18181b;font-weight:700;"><span style="display:inline-block;transform:scaleX(0.9989);transform-origin:0 0;margin-left:0.00px;margin-right:-0.02px;clip-path:polygon(0 0,100% 0,100% 21px,11.36px 21px,11.36px 100%,6.64px 100%,6.64px 21px,0 21px);-webkit-text-stroke:.6px #18181b;">1</span></div>
<svg class="ic" viewBox="0 0 24 24" style="left:1770.25px;top:388.80px;width:20px;height:20px;color:#5b5b66;stroke-width:1.9;"><circle cx="12" cy="12" r="10"/><path d="M12 16v-4"/><path d="M12 8h.01"/></svg>
<svg class="ic" viewBox="0 0 24 24" style="left:1797.25px;top:388.80px;width:20px;height:20px;color:#5b5b66;stroke-width:1.9;"><path d="M10.733 5.076a10.744 10.744 0 0 1 11.205 6.575 1 1 0 0 1 0 .696 10.747 10.747 0 0 1-1.444 2.49"/><path d="M14.084 14.158a3 3 0 0 1-4.242-4.242"/><path d="M17.479 17.499a10.75 10.75 0 0 1-15.417-5.151 1 1 0 0 1 0-.696 10.75 10.75 0 0 1 4.446-5.143"/><path d="m2 2 20 20"/></svg>
<svg class="ic" viewBox="0 0 24 24" style="left:1830.25px;top:388.80px;width:20px;height:20px;color:#5b5b66;stroke-width:2;"><circle cx="9" cy="12" r="1"/><circle cx="9" cy="5" r="1"/><circle cx="9" cy="19" r="1"/><circle cx="15" cy="12" r="1"/><circle cx="15" cy="5" r="1"/><circle cx="15" cy="19" r="1"/></svg>
<div class="abs" style="left:350px;top:493px;width:749px;height:470px;border:1px solid #e4e4e7;border-radius:17px;background:#fff;box-shadow:0 1px 2px rgba(0,0,0,.03)"></div>
<div class="t" style="left:375.74px;top:535px;font-size:20px;color:#09090b;font-weight:700;letter-spacing:0.037px;">Metrics</div>
<svg class="ic" viewBox="0 0 24 24" style="left:462.90px;top:534.80px;width:20px;height:20px;color:#71717a;stroke-width:1.9;"><circle cx="12" cy="12" r="10"/><path d="M12 16v-4"/><path d="M12 8h.01"/></svg>
<div class="abs" style="left:688px;top:527px;width:175px;height:45px;border:1px solid #d4d4d8;background:#f4f4f5;border-radius:8px"></div>
<div class="abs" style="left:700px;top:542.5px;width:13px;height:13.0px;background:#a855f7;border-radius:50%"></div>
<div class="t" style="left:728.97px;top:542px;font-size:16px;color:#18181b;letter-spacing:-0.149px;-webkit-text-stroke:.3px #18181b;">Views</div>
<svg class="ic" viewBox="0 0 24 24" style="left:801.80px;top:539.30px;width:20px;height:20px;color:#52525b;stroke-width:1.8;"><path d="m6 9 6 6 6-6"/></svg>
<div class="abs" style="left:873px;top:527px;width:200px;height:45px;border:1px solid #d4d4d8;background:#f4f4f5;border-radius:8px"></div>
<div class="t" style="left:889.00px;top:542px;font-size:16px;color:#18181b;transform:scaleX(1.0064);transform-origin:0 0;-webkit-text-stroke:.3px #18181b;">Add secondary</div>
<svg class="ic" viewBox="0 0 24 24" style="left:1011.60px;top:539.30px;width:20px;height:20px;color:#52525b;stroke-width:1.8;"><path d="m6 9 6 6 6-6"/></svg>
<svg class="abs" style="left:350px;top:493px" width="749" height="470" viewBox="350 493 749 470"><defs><linearGradient id="gb" x1="0" y1="0" x2="0" y2="1"><stop offset="0" stop-color="#a855f7"/><stop offset="1" stop-color="#c084fc"/></linearGradient></defs><path d="M438.5 599.5H1059.5" stroke="#eeeeef" stroke-width="1" fill="none"/><path d="M438.5 899.5H1059.5" stroke="#e9e9eb" stroke-width="1" fill="none"/><path d="M446.30,899.2V894.00Q446.30,889.00,451.30,889.00H476.30Q481.30,889.00,481.30,894.00V899.2Z" fill="url(#gb)"/><path d="M498.07,899.2V897.20Q498.07,895.20,500.07,895.20H531.07Q533.07,895.20,533.07,897.20V899.2Z" fill="url(#gb)"/><path d="M549.84,899.2V731.80Q549.84,726.80,554.84,726.80H579.84Q584.84,726.80,584.84,731.80V899.2Z" fill="url(#gb)"/><path d="M601.61,899.2V897.05Q601.61,894.90,603.76,894.90H634.46Q636.61,894.90,636.61,897.05V899.2Z" fill="url(#gb)"/><path d="M653.38,899.2V860.70Q653.38,855.70,658.38,855.70H683.38Q688.38,855.70,688.38,860.70V899.2Z" fill="url(#gb)"/><path d="M705.15,899.2V796.30Q705.15,791.30,710.15,791.30H735.15Q740.15,791.30,740.15,796.30V899.2Z" fill="url(#gb)"/><path d="M756.92,899.2V613.00Q756.92,608.00,761.92,608.00H786.92Q791.92,608.00,791.92,613.00V899.2Z" fill="url(#gb)"/><path d="M808.69,899.2V671.20Q808.69,666.20,813.69,666.20H838.69Q843.69,666.20,843.69,671.20V899.2Z" fill="url(#gb)"/><path d="M860.46,899.2V608.30Q860.46,603.30,865.46,603.30H890.46Q895.46,603.30,895.46,608.30V899.2Z" fill="url(#gb)"/><path d="M912.23,899.2V843.20Q912.23,838.20,917.23,838.20H942.23Q947.23,838.20,947.23,843.20V899.2Z" fill="url(#gb)"/><path d="M964.00,899.2V895.35Q964.00,891.50,967.85,891.50H995.15Q999.00,891.50,999.00,895.35V899.2Z" fill="url(#gb)"/><path d="M1015.77,899.2V896.65Q1015.77,894.10,1018.32,894.10H1048.22Q1050.77,894.10,1050.77,896.65V899.2Z" fill="url(#gb)"/></svg>
<div class="t" style="left:400.20px;top:592px;font-size:14px;color:#71717a;">3 K</div>
<div class="t" style="left:400.20px;top:667px;font-size:14px;color:#71717a;">2 K</div>
<div class="t" style="left:400.20px;top:742px;font-size:14px;color:#71717a;">1 K</div>
<div class="t" style="left:398.03px;top:817px;font-size:14px;color:#71717a;">700</div>
<div class="t" style="left:413.58px;top:892px;font-size:14px;color:#71717a;">0</div>
<div class="t" style="left:444.82px;top:920px;font-size:14px;color:#71717a;transform:scaleX(0.9434);transform-origin:0 0;">Jan 17</div>
<div class="t" style="left:548.36px;top:920px;font-size:14px;color:#71717a;transform:scaleX(0.9431);transform-origin:0 0;">Jan 19</div>
<div class="t" style="left:651.90px;top:920px;font-size:14px;color:#71717a;transform:scaleX(0.9425);transform-origin:0 0;">Jan 21</div>
<div class="t" style="left:755.44px;top:920px;font-size:14px;color:#71717a;transform:scaleX(0.9431);transform-origin:0 0;">Jan 23</div>
<div class="t" style="left:858.98px;top:920px;font-size:14px;color:#71717a;transform:scaleX(0.9412);transform-origin:0 0;">Jan 25</div>
<div class="t" style="left:962.52px;top:920px;font-size:14px;color:#71717a;transform:scaleX(0.9434);transform-origin:0 0;">Jan 27</div>
<div class="abs" style="left:1129px;top:493px;width:748px;height:470px;border:1px solid #e4e4e7;border-radius:17px;background:#fff;box-shadow:0 1px 2px rgba(0,0,0,.03)"></div>
<div class="t" style="left:1153.74px;top:531px;font-size:20px;color:#09090b;font-weight:700;letter-spacing:-0.396px;">Engagement</div>
<svg class="ic" viewBox="0 0 24 24" style="left:1288.10px;top:531.00px;width:20px;height:20px;color:#71717a;stroke-width:1.9;"><circle cx="12" cy="12" r="10"/><path d="M12 16v-4"/><path d="M12 8h.01"/></svg>
<div class="abs" style="left:1765px;top:527px;width:86px;height:37px;border:1px solid #d4d4d8;background:#f4f4f5;border-radius:8px"></div>
<div class="abs" style="left:1781px;top:539px;width:12.400000000000091px;height:12.399999999999977px;background:#2dd4bf;border-radius:50%"></div>
<div class="t" style="left:1802.63px;top:538px;font-size:16px;color:#18181b;letter-spacing:-0.334px;-webkit-text-stroke:.3px #18181b;">Rate</div>
<svg class="abs" style="left:1129px;top:493px" width="722" height="470" viewBox="1129 493 722 470"><defs><linearGradient id="ga" x1="0" y1="0" x2="0" y2="1"><stop offset="0" stop-color="#2dd4bf" stop-opacity=".235"/><stop offset="1" stop-color="#2dd4bf" stop-opacity=".03"/></linearGradient></defs><path d="M1217.5 591.5H1838.5" stroke="#eeeeef" stroke-width="1" fill="none"/><path d="M1217.5 666.5H1838.5" stroke="#eeeeef" stroke-width="1" fill="none"/><path d="M1217.5 741.5H1838.5" stroke="#eeeeef" stroke-width="1" fill="none"/><path d="M1217.5 816.5H1838.5" stroke="#eeeeef" stroke-width="1" fill="none"/><path d="M1217.5 891.5H1838.5" stroke="#eeeeef" stroke-width="1" fill="none"/><path d="M1217.50,663.95C1243.38,654.20,1269.25,644.45,1295.12,644.45C1321.00,644.45,1346.88,818.08,1372.75,818.08C1398.62,818.08,1424.50,817.83,1450.38,817.33C1476.25,816.83,1502.12,596.45,1528.00,596.45C1553.88,596.45,1579.75,715.70,1605.62,715.70C1631.50,715.70,1657.38,663.20,1683.25,663.20C1709.12,663.20,1735.00,669.45,1760.88,681.95C1786.75,694.45,1812.62,792.83,1838.50,891.20L1838.5,891.2L1217.5,891.2Z" fill="url(#ga)"/><path d="M1217.50,663.95C1243.38,654.20,1269.25,644.45,1295.12,644.45C1321.00,644.45,1346.88,818.08,1372.75,818.08C1398.62,818.08,1424.50,817.83,1450.38,817.33C1476.25,816.83,1502.12,596.45,1528.00,596.45C1553.88,596.45,1579.75,715.70,1605.62,715.70C1631.50,715.70,1657.38,663.20,1683.25,663.20C1709.12,663.20,1735.00,669.45,1760.88,681.95C1786.75,694.45,1812.62,792.83,1838.50,891.20" fill="none" stroke="#2dd4bf" stroke-width="2.5" stroke-linejoin="round"/></svg>
<div class="t" style="left:1176.24px;top:584px;font-size:14px;color:#71717a;">4 %</div>
<div class="t" style="left:1176.24px;top:659px;font-size:14px;color:#71717a;">3 %</div>
<div class="t" style="left:1176.24px;top:734px;font-size:14px;color:#71717a;">2 %</div>
<div class="t" style="left:1176.24px;top:809px;font-size:14px;color:#71717a;">1 %</div>
<div class="t" style="left:1176.24px;top:884px;font-size:14px;color:#71717a;">0 %</div>
<div class="abs" style="left:1129px;top:900px;width:722.5px;height:40px;overflow:hidden">
<div class="t" style="left:69.62px;top:12px;font-size:14px;color:#71717a;transform:scaleX(0.9140);transform-origin:0 0;">Jan 17</div>
<div class="t" style="left:223.56px;top:12px;font-size:14px;color:#71717a;letter-spacing:-0.188px;">Jan 21</div>
<div class="t" style="left:378.69px;top:12px;font-size:14px;color:#71717a;letter-spacing:-0.167px;">Jan 23</div>
<div class="t" style="left:534.03px;top:12px;font-size:14px;color:#71717a;letter-spacing:-0.180px;">Jan 25</div>
<div class="t" style="left:689.19px;top:12px;font-size:14px;color:#71717a;letter-spacing:-0.159px;">Jan 27</div>
</div>
<div class="abs" style="left:1907px;top:0px;width:12px;height:970px;background:#fff"></div>
<div class="abs" style="left:1910px;top:15px;width:7px;height:432px;background:#d2d2d2;border-radius:3.5px"></div>
<svg class="abs" style="left:1908px;top:3px" width="11" height="8" viewBox="0 0 11 8"><path d="M5.5 0.9 9.8 6.9H1.2z" fill="#d0d0d0"/></svg>
<svg class="abs" style="left:1908px;top:960px" width="11" height="8" viewBox="0 0 11 8"><path d="M5.5 7.1 9.8 1.1H1.2z" fill="#d0d0d0"/></svg>
<div class="abs" style="left:0px;top:969px;width:1919px;height:1px;background:#0a0a0a"></div>
</body>
</html>
